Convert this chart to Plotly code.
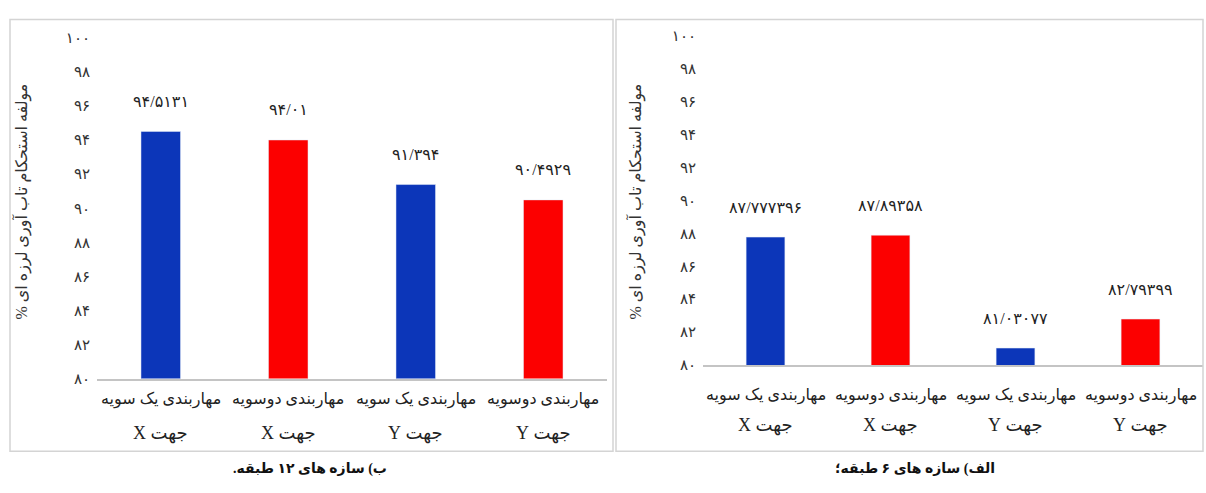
import plotly.graph_objects as go

# Categories (left to right) and their two-line labels
cat_ids = ["c1", "c2", "c3", "c4"]
cat_line1 = ["مهاربندی یک سویه", "مهاربندی دوسویه", "مهاربندی یک سویه", "مهاربندی دوسویه"]
cat_line2 = ["جهت X", "جهت X", "جهت Y", "جهت Y"]

# Panel (b): 12-storey structures
values_12 = [94.5131, 94.01, 91.394, 90.4929]
# Panel (a): 6-storey structures
values_6 = [87.777396, 87.89358, 81.03077, 82.79399]

bar_colors = ["#0c36b9", "#fc0000", "#0c36b9", "#fc0000"]

y_ticks = [80, 82, 84, 86, 88, 90, 92, 94, 96, 98, 100]
y_title = "مولفه استحکام تاب آوری لرزه ای %"
caption_12 = "ب) سازه های ۱۲ طبقه."
caption_6 = "الف) سازه های ۶ طبقه؛"

W, H = 1206, 493
FONT = "Liberation Serif, DejaVu Sans, serif"
FA_DIGITS = str.maketrans("0123456789.", "۰۱۲۳۴۵۶۷۸۹/")


def fa(v):
    return str(v).translate(FA_DIGITS)


def rtl(s):
    # right-to-left embedding so mixed Persian/Latin text reads correctly
    return "\u202b" + s + "\u202c"


def px_x(p):
    return p / W


def px_y(p):
    return 1 - p / H


fig = go.Figure()
fig.add_trace(go.Bar(x=cat_ids, y=values_12, marker_color=bar_colors,
                     xaxis="x", yaxis="y", width=0.31, hoverinfo="skip"))
fig.add_trace(go.Bar(x=cat_ids, y=values_6, marker_color=bar_colors,
                     xaxis="x2", yaxis="y2", width=0.31, hoverinfo="skip"))

axis_x = dict(type="category", showgrid=False, zeroline=False, showticklabels=False,
              showline=True, linecolor="#c4c4c4", linewidth=1.5, ticks="", fixedrange=True)
axis_y = dict(range=[80, 100], tickvals=y_ticks, ticktext=[fa(t) for t in y_ticks],
              showgrid=False, zeroline=False, showline=False, ticks="",
              ticklabelstandoff=6,
              tickfont=dict(family=FONT, size=15, color="#333333"), fixedrange=True)

fig.update_layout(
    width=W, height=H,
    margin=dict(l=0, r=0, t=0, b=0),
    paper_bgcolor="white", plot_bgcolor="white",
    showlegend=False,
    bargap=0.69,
    xaxis=dict(axis_x, domain=[px_x(97), px_x(607)], anchor="y"),
    yaxis=dict(axis_y, domain=[px_y(383), px_y(31)], anchor="x"),
    xaxis2=dict(axis_x, domain=[px_x(703), px_x(1203)], anchor="y2"),
    yaxis2=dict(axis_y, domain=[px_y(369), px_y(29)], anchor="x2"),
)

annotations = []
shapes = []

panels = [
    dict(xa="x", ya="y", vals=values_12, l1=405, l2=440, tx=22, cap_x=310,
         cap=caption_12, box=(10, 613)),
    dict(xa="x2", ya="y2", vals=values_6, l1=400, l2=431, tx=636, cap_x=915,
         cap=caption_6, box=(616, 1203)),
]

for p in panels:
    # value labels above bars
    for c, v in zip(cat_ids, p["vals"]):
        annotations.append(dict(x=c, y=v, xref=p["xa"], yref=p["ya"], text=fa(v),
                                showarrow=False, yanchor="middle", yshift=30,
                                font=dict(family=FONT, size=16, color="#222222")))
    # two-line category labels
    for c, a, b in zip(cat_ids, cat_line1, cat_line2):
        annotations.append(dict(x=c, y=px_y(p["l1"]), xref=p["xa"], yref="paper", text=rtl(a),
                                showarrow=False, yanchor="middle",
                                font=dict(family=FONT, size=16, color="#222222")))
        annotations.append(dict(x=c, y=px_y(p["l2"]), xref=p["xa"], yref="paper", text=rtl(b),
                                showarrow=False, yanchor="middle",
                                font=dict(family=FONT, size=18, color="#222222")))
    # vertical axis title
    annotations.append(dict(x=px_x(p["tx"]), y=px_y(200), xref="paper", yref="paper",
                            text=rtl(y_title), textangle=-90, showarrow=False,
                            xanchor="center", yanchor="middle",
                            font=dict(family=FONT, size=16, color="#333333")))
    # caption under the panel
    annotations.append(dict(x=px_x(p["cap_x"]), y=px_y(476), xref="paper", yref="paper",
                            text="<b>" + rtl(p["cap"]) + "</b>", showarrow=False,
                            xanchor="center", yanchor="middle",
                            font=dict(family=FONT, size=14, color="#111111")))
    # panel frame
    x0, x1 = p["box"]
    shapes.append(dict(type="rect", xref="paper", yref="paper",
                       x0=px_x(x0), x1=px_x(x1), y0=px_y(458), y1=px_y(12),
                       line=dict(color="#d4d4d4", width=1.5), fillcolor="rgba(0,0,0,0)"))

fig.update_layout(annotations=annotations, shapes=shapes)

fig.write_html("out.html")
